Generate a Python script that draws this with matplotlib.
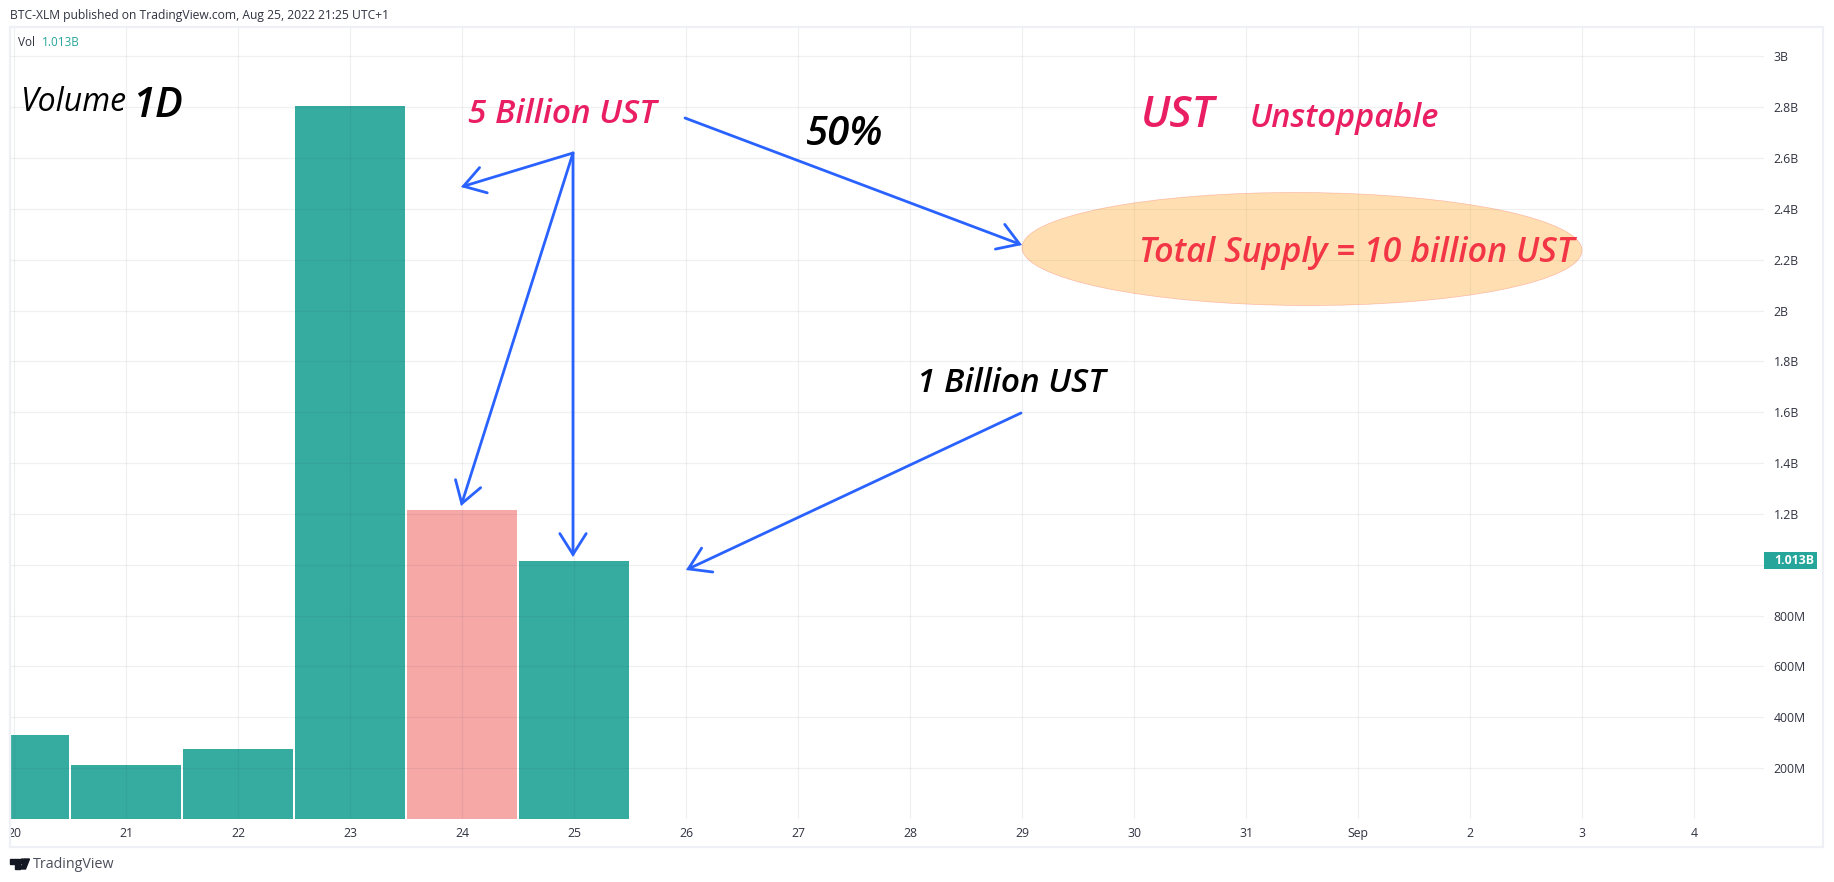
import matplotlib
matplotlib.use('Agg')
import matplotlib.pyplot as plt
from matplotlib.patches import Rectangle, Ellipse, Polygon, Circle, FancyArrowPatch
from matplotlib.transforms import Bbox

W, H = 1834, 882
plt.rcParams['font.family'] = ['Open Sans', 'DejaVu Sans']

# daily volume in billions
days = [0, 1, 2, 3, 4, 5]
volume = [0.33, 0.212, 0.275, 2.805, 1.215, 1.013]
falling = [False, False, False, False, True, False]

x_ticks = list(range(16))
x_labels = ['20', '21', '22', '23', '24', '25', '26', '27', '28', '29', '30', '31', 'Sep', '2', '3', '4']
y_ticks = [0.2, 0.4, 0.6, 0.8, 1.2, 1.4, 1.6, 1.8, 2.0, 2.2, 2.4, 2.6, 2.8, 3.0]
y_labels = ['200M', '400M', '600M', '800M', '1.2B', '1.4B', '1.6B', '1.8B', '2B', '2.2B', '2.4B', '2.6B', '2.8B', '3B']
y_grid_extra = 1.0

# drawings, in pixels of the picture
arrows = [
    ((685, 118), (1022, 245)),
    ((573, 153), (461, 187)),
    ((573, 153), (461, 506)),
    ((573, 153), (573, 557)),
    ((1021, 413), (686, 570)),
]
notes = [
    ('Volume', 20, 111, 23, 'normal', 'black'),
    ('1D', 132, 117, 30, 600, 'black'),
    ('5 Billion UST', 468, 123, 24, 600, '#e91e63'),
    ('50%', 806, 145, 29, 600, 'black'),
    ('UST', 1141, 127, 31, 600, '#e91e63'),
    ('Unstoppable', 1250, 127, 23.5, 600, '#e91e63'),
    ('Total Supply = 10 billion UST', 1139, 262, 24.5, 600, '#f23645'),
    ('1 Billion UST', 917, 392, 24, 600, 'black'),
]

TEAL = '#26a69a'
RED = '#ef5350'
BLUE = '#2962ff'
GRID = '#2a2e39'
TXT = '#2f3240'

fig = plt.figure(figsize=(W / 100, H / 100), dpi=100, facecolor='white')

left, right, top, bottom = 11, 1764, 28, 819
ax = fig.add_axes([left / W, (H - bottom) / H, (right - left) / W, (bottom - top) / H])
px_per_day = 112
px_per_b = 254.25
ax.set_xlim((left - 14) / px_per_day, (right - 14) / px_per_day)
ax.set_ylim(0, (bottom - top) / px_per_b)

colors = [RED if f else TEAL for f in falling]
alphas = [0.5 if f else 0.93 for f in falling]
for d, v, c, a in zip(days, volume, colors, alphas):
    ax.bar(d, v, width=0.99, color=c, alpha=a, linewidth=0)

ax.set_xticks(x_ticks)
ax.set_xticklabels(x_labels)
ax.set_yticks(y_ticks + [y_grid_extra])
ax.set_yticklabels(y_labels + [''])
ax.yaxis.tick_right()
ax.tick_params(length=0, labelsize=8.8, labelcolor=TXT)
ax.tick_params(axis='x', pad=5.5)
ax.tick_params(axis='y', pad=7)
for s in ax.spines.values():
    s.set_visible(False)
ax.set_axisbelow(False)
ax.grid(True, color=GRID, alpha=0.07, linewidth=0.9)
ax.patch.set_alpha(0)

# the first date sits under the frame
clip = Bbox([[left - 2, 0], [W, H]])
first = ax.get_xticklabels()[0]
first.set_clip_on(True)
first.set_clip_box(clip)

# overlay in picture pixels for frame, drawings and texts
ov = fig.add_axes([0, 0, 1, 1])
ov.set_xlim(0, W)
ov.set_ylim(H, 0)
ov.axis('off')

ov.add_patch(Rectangle((10, 27), 1813, 820, fill=False, edgecolor='#eff0f6', linewidth=1.6))

ov.add_patch(Ellipse((1302, 249), 560, 113, angle=0.3, facecolor='#ff9800', alpha=0.3,
                     edgecolor='#f44336', linewidth=0.5))

for start, end in arrows:
    ov.add_patch(FancyArrowPatch(start, end, arrowstyle='->,head_length=1.5,head_width=0.95',
                                 mutation_scale=10, color=BLUE, linewidth=2.0,
                                 shrinkA=0, shrinkB=0, joinstyle='miter'))

for text, x, y, size, weight, color in notes:
    ov.text(x, y, text, fontsize=size, fontweight=weight, fontstyle='italic', color=color,
            va='baseline', ha='left')

ov.text(10, 16, 'BTC-XLM published on TradingView.com, Aug 25, 2022 21:25 UTC+1', fontsize=8.7,
        color=TXT, va='center')
ov.text(18, 42.5, 'Vol', fontsize=8.5, color=TXT, va='center')
ov.text(42, 42.5, '1.013B', fontsize=8.5, color=TEAL, va='center')

# last value badge
ov.add_patch(Rectangle((1764, 552), 53, 17, facecolor=TEAL, edgecolor='none'))
ov.text(1774, 561, '1.013B', fontsize=8.8, color='white', fontweight='bold', va='center')

# footer logo
ov.add_patch(Polygon([(10, 859), (20, 859), (20, 869), (15, 869), (15, 864), (10, 864)], color='#131722'))
ov.add_patch(Circle((22.5, 861.3), 2.3, color='#131722'))
ov.add_patch(Polygon([(24.5, 859), (29.5, 859), (25.5, 869), (20.5, 869)], color='#131722'))
ov.text(33, 864, 'TradingView', fontsize=10.3, color='#4a4e5a', va='center')

fig.savefig('out.png', dpi=100)
